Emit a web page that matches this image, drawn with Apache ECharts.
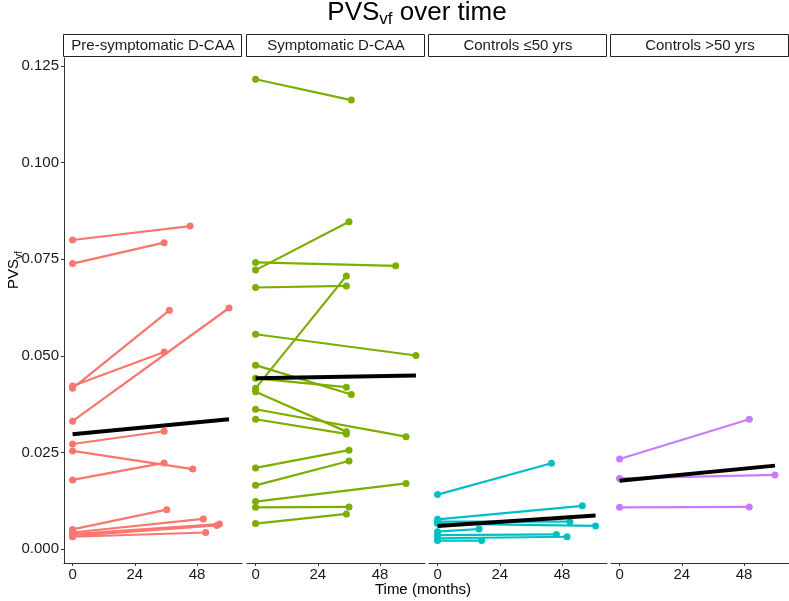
<!DOCTYPE html>
<html>
<head>
<meta charset="utf-8">
<script src="https://cdn.jsdelivr.net/npm/echarts@6/dist/echarts.min.js"></script>
<style>
  html, body { margin: 0; padding: 0; background: #fff; }
  #main { width: 789px; height: 601px; }
</style>
</head>
<body>
<div id="main"></div>
<script>
// facet labels and colours
var panels = ['Pre-symptomatic D-CAA', 'Symptomatic D-CAA', 'Controls \u226450 yrs', 'Controls >50 yrs'];
var colors = ['#F8766D', '#7CAE00', '#00BFC4', '#C77CFF'];

// baseline value (month 0), follow-up month, follow-up value per subject
var preBase   = [0.0800, 0.0739, 0.0416, 0.0422, 0.0331, 0.0272, 0.0254, 0.0179, 0.0051, 0.0043, 0.0039, 0.0034, 0.0032];
var preMonths = [45.3, 35.3, 37.3, 35.3, 60.3, 35.3, 46.3, 35.3, 36.3, 50.4, 56.6, 55.6, 51.3];
var preFollow = [0.0836, 0.0793, 0.0618, 0.0510, 0.0624, 0.0305, 0.0207, 0.0223, 0.0102, 0.0078, 0.0065, 0.0061, 0.0043];

var symBase   = [0.1216, 0.0722, 0.0742, 0.0677, 0.0416, 0.0556, 0.0476, 0.0442, 0.0407, 0.0362, 0.0336, 0.0210, 0.0165, 0.0123, 0.0108, 0.0066];
var symMonths = [36.9, 36.0, 54.0, 35.0, 35.0, 61.8, 36.9, 35.0, 35.0, 58.0, 35.0, 36.0, 36.0, 58.0, 36.0, 35.0];
var symFollow = [0.1162, 0.0847, 0.0733, 0.0681, 0.0707, 0.0501, 0.0400, 0.0419, 0.0304, 0.0291, 0.0298, 0.0256, 0.0228, 0.0170, 0.0109, 0.0091];

var youngBase   = [0.0141, 0.0077, 0.0071, 0.0066, 0.0045, 0.0036, 0.0028, 0.0022];
var youngMonths = [43.9, 55.8, 51.0, 60.9, 16.0, 45.8, 49.9, 17.0];
var youngFollow = [0.0222, 0.0112, 0.0071, 0.0060, 0.0052, 0.0038, 0.0032, 0.0022];

var oldBase   = [0.0233, 0.0183, 0.0108];
var oldMonths = [50.0, 59.9, 50.0];
var oldFollow = [0.0336, 0.0192, 0.0109];

// group trend lines (black)
var trendStart  = [0.0297, 0.0442, 0.0060, 0.0177];
var trendMonths = [60.3, 61.8, 60.9, 59.9];
var trendEnd    = [0.0336, 0.0449, 0.0087, 0.0216];

var xTicks = [0, 24, 48];
var yTicks = [0, 0.025, 0.05, 0.075, 0.1, 0.125];

var groups = [
    [preBase, preMonths, preFollow],
    [symBase, symMonths, symFollow],
    [youngBase, youngMonths, youngFollow],
    [oldBase, oldMonths, oldFollow]
];

var font = 'Liberation Sans, Arial, sans-serif';
var lefts = [64, 247, 429, 611];
var panelW = 178;
var top0 = 58, panelH = 505;

var grids = [], xAxes = [], yAxes = [], series = [], graphics = [];

lefts.forEach(function (l, i) {
    grids.push({left: l, top: top0, width: panelW, height: panelH});
    xAxes.push({
        type: 'value', gridIndex: i, min: -3.3, max: 65.3,
        splitLine: {show: false},
        axisLine: {show: true, onZero: false, lineStyle: {color: '#333', width: 1}},
        axisTick: {show: true, length: 3, customValues: xTicks, lineStyle: {color: '#333'}},
        axisLabel: {customValues: xTicks, margin: 4, color: '#1a1a1a', fontSize: 15, fontFamily: font}
    });
    yAxes.push({
        type: 'value', gridIndex: i, min: -0.0036, max: 0.1271,
        splitLine: {show: false},
        axisLine: {show: i === 0, onZero: false, lineStyle: {color: '#333', width: 1}},
        axisTick: {show: i === 0, length: 3, customValues: yTicks, lineStyle: {color: '#333'}},
        axisLabel: {show: i === 0, customValues: yTicks, margin: 5, color: '#1a1a1a', fontSize: 15, fontFamily: font,
            formatter: function (v) { return v.toFixed(3); }}
    });

    var g = groups[i];
    for (var k = 0; k < g[0].length; k++) {
        series.push({
            type: 'line', xAxisIndex: i, yAxisIndex: i,
            data: [[0, g[0][k]], [g[1][k], g[2][k]]],
            symbol: 'circle', symbolSize: 7,
            itemStyle: {color: colors[i]},
            lineStyle: {color: colors[i], width: 2.2},
            z: 2
        });
    }
    series.push({
        type: 'line', xAxisIndex: i, yAxisIndex: i,
        data: [[0, trendStart[i]], [trendMonths[i], trendEnd[i]]],
        symbol: 'none',
        lineStyle: {color: '#000', width: 4},
        z: 5
    });

    // facet strip
    graphics.push({
        type: 'rect', shape: {x: l - 0.5, y: 34.5, width: panelW, height: 22},
        style: {fill: '#fff', stroke: '#222', lineWidth: 1}
    });
    graphics.push({
        type: 'text', x: l + panelW / 2, y: 46,
        style: {text: panels[i], fill: '#1a1a1a', font: '15px ' + font, textAlign: 'center', textVerticalAlign: 'middle'}
    });
});

graphics.push({
    type: 'text', x: 417, y: 13,
    style: {
        text: '{a|PVS}{s|vf}{a| over time}',
        textAlign: 'center', textVerticalAlign: 'middle',
        rich: {
            a: {fontSize: 26, fontFamily: font, color: '#000', lineHeight: 30},
            s: {fontSize: 17, fontFamily: font, color: '#000', lineHeight: 15, verticalAlign: 'bottom'}
        }
    }
});
graphics.push({
    type: 'text', x: 14, y: 270, rotation: Math.PI / 2,
    style: {
        text: '{a|PVS}{s|vf}',
        textAlign: 'center', textVerticalAlign: 'middle',
        rich: {
            a: {fontSize: 15, fontFamily: font, color: '#000', lineHeight: 20},
            s: {fontSize: 10, fontFamily: font, color: '#000', lineHeight: 10, verticalAlign: 'bottom'}
        }
    }
});
graphics.push({
    type: 'text', x: 423, y: 590,
    style: {text: 'Time (months)', fill: '#000', font: '15px ' + font, textAlign: 'center', textVerticalAlign: 'middle'}
});

var myChart = echarts.init(document.getElementById('main'));
var option = {
    animation: false,
    backgroundColor: '#fff',
    grid: grids,
    xAxis: xAxes,
    yAxis: yAxes,
    series: series,
    graphic: graphics
};
myChart.setOption(option);
</script>
</body>
</html>
